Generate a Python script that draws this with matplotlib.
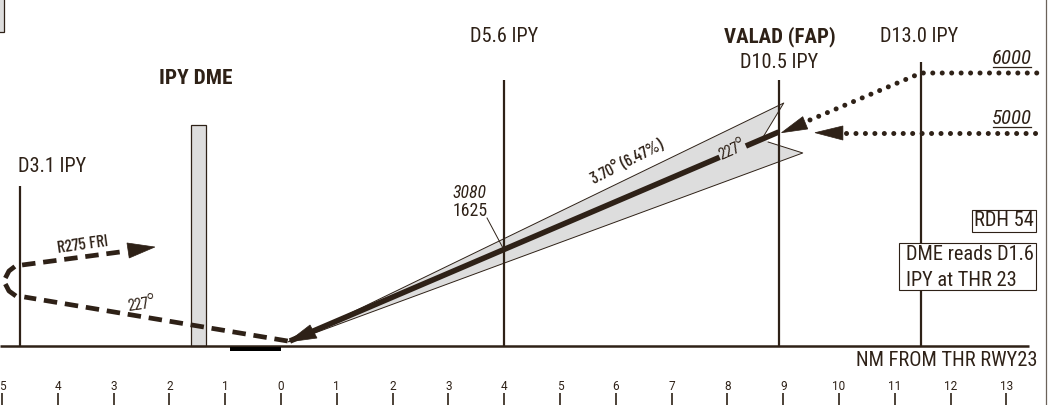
import matplotlib
matplotlib.use("Agg")
import matplotlib.pyplot as plt
from matplotlib.patches import Polygon, Rectangle

COND = ['Roboto Condensed', 'Barlow Condensed', 'Archivo Narrow', 'Liberation Sans', 'DejaVu Sans']
XCOND = ['Barlow Condensed', 'Roboto Condensed', 'Liberation Sans', 'DejaVu Sans']
plt.rcParams['font.family'] = COND

INK = '#2e2117'
GREY = '#dddddd'

# Profile data: x = NM from threshold, y = altitude in feet
fix_nm = [-4.68, 4.0, 8.92, 11.47]
fix_top = [4122, 5888, 5888, 6188]
threshold_elev = 1455
tower_nm = [-1.61, -1.34]
tower_top = 5138
glide_nm = [0.16, 8.92]
glide_alt = [1538, 5022]
wedge_nm = [0.215, 9.01, 8.64, 8.73, 9.35]
wedge_alt = [1538, 5505, 4938, 4855, 4672]
step_nm = [9.48, 11.47, 13.55]
step_alt = [5222, 6005, 6005]
level_nm = [10.13, 13.55]
level_alt = [5005, 5005]
out_nm = [0.12, -4.6]
out_alt = [1538, 2272]
turn_a_nm = [-4.75, -4.875, -4.94]
turn_a_alt = [2288, 2372, 2488]
turn_b_nm = [-4.94, -4.875, -4.77]
turn_b_alt = [2588, 2705, 2780]
radial_nm = [-4.64, -2.885]
radial_alt = [2805, 3022]
head_glide = [(0.125, 1522), (0.52, 1805), (0.645, 1588)]
head_step = [(8.97, 5010), (9.35, 5277), (9.44, 5072)]
head_level = [(9.57, 5010), (10.07, 5122), (10.07, 4888)]
head_radial = [(-2.26, 3105), (-2.76, 3172), (-2.72, 2922)]
runway_nm = [-0.91, 0.0]
scale_ticks = [-5, -4, -3, -2, -1, 0, 1, 2, 3, 4, 5, 6, 7, 8, 9, 10, 11, 12, 13]
scale_labels = ['5', '4', '3', '2', '1', '0', '1', '2', '3', '4', '5', '6', '7', '8', '9', '10', '11', '12', '13']

PX_NM = 55.8
PX_FT = 0.06
W, H = 1050, 405


def X(px):
    return (px - 281) / PX_NM


def Y(py):
    return threshold_elev + (346 - py) / PX_FT


fig = plt.figure(figsize=(W / 100, H / 100), dpi=100, facecolor='white')
ax = fig.add_axes([0, 0, 1, 1])
ax.set_xlim(X(0), X(W))
ax.set_ylim(Y(H), Y(0))
ax.axis('off')

# fix lines
for n, t in zip(fix_nm, fix_top):
    ax.plot([n, n], [threshold_elev, t], color=INK, lw=1.6, solid_capstyle='butt', zorder=2)

# ground, runway
ax.plot([X(0), X(1029)], [threshold_elev, threshold_elev], color=INK, lw=1.8, zorder=5, solid_capstyle='butt')
ax.add_patch(Rectangle((runway_nm[0], Y(351)), runway_nm[1] - runway_nm[0], Y(347) - Y(351), fc='black', ec='none', zorder=5))

# tower
ax.add_patch(Rectangle((tower_nm[0], threshold_elev), tower_nm[1] - tower_nm[0], tower_top - threshold_elev,
                       fc=GREY, ec=INK, lw=0.9, zorder=1))
# top-left stub box
ax.add_patch(Rectangle((X(-2), Y(32)), X(4) - X(-2), Y(-2) - Y(32), fc=GREY, ec=INK, lw=0.9, zorder=1))

# right frame
ax.plot([X(1046), X(1046)], [Y(0), Y(H)], color='#6b625a', lw=0.9)

# wedge
ax.add_patch(Polygon(list(zip(wedge_nm, wedge_alt)), closed=True, fc=GREY, ec='none', zorder=1.5))
ax.plot(wedge_nm[:3], wedge_alt[:3], color=INK, lw=0.7, zorder=3)
ax.plot(wedge_nm[3:] + wedge_nm[:1], wedge_alt[3:] + wedge_alt[:1], color=INK, lw=0.7, zorder=3)

# glide path
ax.plot(glide_nm, glide_alt, color=INK, lw=4.0, solid_capstyle='butt', zorder=4)
for h in (head_glide, head_step, head_level, head_radial):
    ax.add_patch(Polygon(h, closed=True, fc=INK, ec=INK, lw=0.5, zorder=4))

# dotted
for xs, ys in ((step_nm, step_alt), (level_nm, level_alt)):
    ax.plot(xs, ys, color=INK, lw=3.6, linestyle=(0, (0.01, 1.88)), dash_capstyle='round', zorder=4)

# dashed
dash = (0, (2.85, 1.65))
for xs, ys in ((out_nm, out_alt), (radial_nm, radial_alt)):
    ax.plot(xs, ys, color=INK, lw=3.4, linestyle=dash, dash_capstyle='butt', zorder=4)
for xs, ys in ((turn_a_nm, turn_a_alt), (turn_b_nm, turn_b_alt)):
    ax.plot(xs, ys, color=INK, lw=3.4, solid_capstyle='butt', zorder=4)

# leader for 1625
ax.plot([X(487), X(503)], [Y(218), Y(248)], color=INK, lw=0.7, zorder=3)


def T(px, py, s, size=14.7, ha='center', **kw):
    ax.text(X(px), Y(py), s, fontsize=size, ha=ha, va='center', color=INK, zorder=8, **kw)


T(18, 167, 'D3.1 IPY', ha='left')
T(196, 78, 'IPY DME', size=15.4, weight='bold')
T(504, 36, 'D5.6 IPY')
T(780, 37, 'VALAD (FAP)', size=15, weight='bold')
T(779, 63, 'D10.5 IPY')
T(919, 37, 'D13.0 IPY')
T(1012, 58, '6000', size=15, style='italic')
T(1012, 118, '5000', size=15, style='italic')
for py in (66.5, 126.5):
    ax.plot([X(993), X(1031)], [Y(py), Y(py)], color=INK, lw=0.9)
T(470, 193, '3080', size=12.8, style='italic')
T(470, 211, '1625', size=12.8)
T(83, 245, 'R275 FRI', size=12.5, rotation=8, weight=500, family=XCOND)
T(141, 305, '227°', size=13, rotation=8, family=XCOND)
T(627, 162, '3.70° (6.47%)', size=12, rotation=27, weight=500, family=XCOND)
T(732, 150, '227°', size=13, rotation=24, bbox=dict(fc=GREY, ec='none', pad=0.4), family=XCOND)
T(1037, 361, 'NM FROM THR RWY23', ha='right')

# note boxes
for x0, x1, y0, y1 in ((972, 1036, 210, 232), (899, 1036, 243, 290)):
    ax.add_patch(Rectangle((X(x0), Y(y1)), X(x1) - X(x0), Y(y0) - Y(y1), fc='white', ec=INK, lw=0.8, zorder=6))
T(1004, 221, 'RDH 54')
T(906, 254, 'DME reads D1.6', ha='left')
T(906, 280, 'IPY at THR 23', ha='left')

# distance scale
for n, lab in zip(scale_ticks, scale_labels):
    ax.plot([n, n], [Y(393), Y(H)], color=INK, lw=1.2, solid_capstyle='butt')
    ax.text(n, Y(386), lab, fontsize=8.5, ha='center', va='center', color=INK, family='Roboto')

fig.savefig('out.png', dpi=100, facecolor='white')
